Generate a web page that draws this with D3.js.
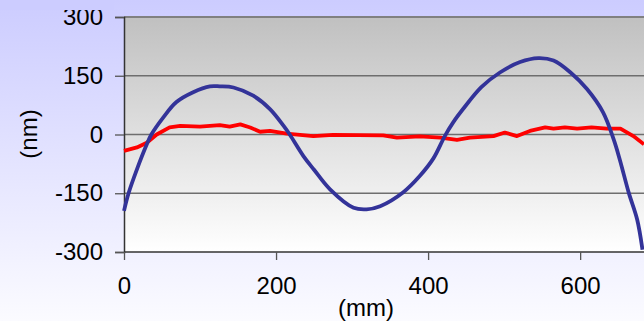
<!DOCTYPE html>
<html>
<head>
<meta charset="utf-8">
<script src="https://cdn.jsdelivr.net/npm/d3@7"></script>
<style>
  body { margin: 0; overflow: hidden; }
  svg { display: block; font-family: "Liberation Sans", Arial, sans-serif; }
</style>
</head>
<body>
<script>
// tick values on both axes
const yTicks = [-300, -150, 0, 150, 300];
const xTicks = [0, 200, 400, 600];

// blue profile (mm, nm)
const blueX = [0, 6, 17, 30, 36, 51, 69, 91, 113, 126, 144, 170, 192, 210, 218, 236, 250, 271, 302, 319, 337, 367, 389, 407, 422, 433, 446, 470, 495, 521, 545, 565, 587, 609, 630, 644, 652, 664, 675, 682];
const blueY = [-195, -150, -89, -25, 0, 42, 83, 108, 123, 123, 120, 99, 65, 22, 0, -55, -90, -140, -187, -191, -183, -148, -106, -61, -4, 31, 65, 121, 159, 185, 195, 189, 159, 116, 57, -12, -63, -149, -217, -294];

// red profile
const redX = [0, 17, 30, 43, 60, 74, 100, 126, 139, 153, 166, 179, 192, 214, 249, 275, 341, 359, 389, 416, 438, 455, 486, 501, 517, 534, 554, 565, 580, 596, 615, 635, 653, 670, 684];
const redY = [-42, -33, -21, 0, 18, 22, 20, 24, 20, 26, 18, 7, 9, 2, -4, -1, -2, -8, -5, -8, -14, -8, -4, 5, -4, 9, 18, 15, 18, 15, 18, 15, 15, -4, -25];

const W = 644, H = 321;
const plot = { left: 124, top: 17, right: 644, bottom: 252 };

const svg = d3.select("body").append("svg")
  .attr("width", W)
  .attr("height", H);

const defs = svg.append("defs");

// page background: lavender fading to white
const bg = defs.append("linearGradient")
  .attr("id", "bg").attr("x1", 0).attr("y1", 0).attr("x2", 0).attr("y2", 1);
bg.append("stop").attr("offset", "0%").attr("stop-color", "#ccccff");
bg.append("stop").attr("offset", "100%").attr("stop-color", "#fbfbff");

// plot area: grey fading to white
const pg = defs.append("linearGradient")
  .attr("id", "pg").attr("x1", 0).attr("y1", 0).attr("x2", 0).attr("y2", 1);
pg.append("stop").attr("offset", "0%").attr("stop-color", "#c0c0c0");
pg.append("stop").attr("offset", "100%").attr("stop-color", "#ffffff");

svg.append("rect")
  .attr("width", W).attr("height", H)
  .attr("fill", "url(#bg)");

// scales
const x = d3.scaleLinear()
  .domain([0, 684])
  .range([plot.left, plot.right]);

const y = d3.scaleLinear()
  .domain([-300, 300])
  .range([plot.bottom, plot.top]);

svg.append("rect")
  .attr("x", plot.left).attr("y", plot.top)
  .attr("width", plot.right - plot.left)
  .attr("height", plot.bottom - plot.top)
  .attr("fill", "url(#pg)");

// horizontal grid lines
svg.append("g")
  .selectAll("line")
  .data(yTicks.filter(d => d !== -300))
  .enter().append("line")
  .attr("x1", plot.left).attr("x2", plot.right)
  .attr("y1", d => y(d)).attr("y2", d => y(d))
  .attr("stroke", d => d === 300 ? "#808080" : "#6e6e6e")
  .attr("stroke-width", d => d === 300 ? 2 : 1.3);

// y axis (plain hyphen for negatives, like the original)
const yAxis = svg.append("g")
  .attr("transform", "translate(" + plot.left + ",0)")
  .call(d3.axisLeft(y).tickValues(yTicks).tickFormat(d => String(d)).tickSize(9).tickPadding(12));

// x axis
const xAxis = svg.append("g")
  .attr("transform", "translate(0," + plot.bottom + ")")
  .call(d3.axisBottom(x).tickValues(xTicks).tickFormat(d => String(d)).tickSize(8).tickPadding(17));

[yAxis, xAxis].forEach(g => {
  g.select(".domain").attr("stroke", "#333").attr("stroke-width", 1.5);
  g.selectAll(".tick line").attr("stroke", "#555").attr("stroke-width", 1.3);
  g.selectAll("text")
    .attr("fill", "#000")
    .style("font-size", "24px")
    .style("font-family", '"Liberation Sans", Arial, sans-serif');
});
xAxis.select(".domain").attr("d", "M" + plot.left + ",0H" + plot.right);

// the top label is cut in the original
svg.append("rect")
  .attr("x", 0).attr("y", 0)
  .attr("width", plot.left - 10).attr("height", 10)
  .attr("fill", "#ccccff");

// lines
const redLine = d3.line()
  .x(d => x(d[0]))
  .y(d => y(d[1]));

const blueLine = d3.line()
  .curve(d3.curveCatmullRom)
  .x(d => x(d[0]))
  .y(d => y(d[1]));

svg.append("path")
  .datum(d3.zip(redX, redY))
  .attr("fill", "none")
  .attr("stroke", "#ff0000")
  .attr("stroke-width", 3.8)
  .attr("stroke-linejoin", "round")
  .attr("d", redLine);

svg.append("path")
  .datum(d3.zip(blueX, blueY))
  .attr("fill", "none")
  .attr("stroke", "#333399")
  .attr("stroke-width", 3.8)
  .attr("stroke-linejoin", "round")
  .attr("d", blueLine);

// axis titles
svg.append("text")
  .attr("x", 366).attr("y", 316)
  .attr("text-anchor", "middle")
  .style("font-size", "24px")
  .text("(mm)");

svg.append("text")
  .attr("transform", "translate(37,134) rotate(-90)")
  .attr("text-anchor", "middle")
  .style("font-size", "24px")
  .text("(nm)");
</script>
</body>
</html>
